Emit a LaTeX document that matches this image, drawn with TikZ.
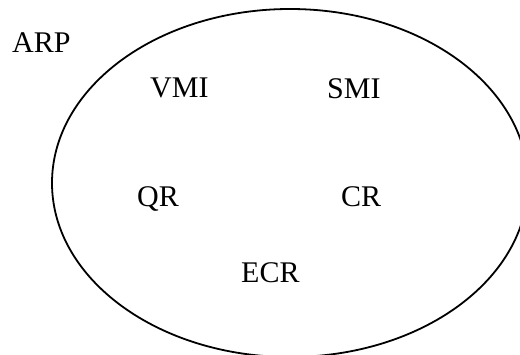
\documentclass[tikz,border=0pt]{standalone}
\usepackage{fontspec}
\setmainfont{Liberation Serif}
\usetikzlibrary{shapes.geometric}
\begin{document}
\begin{tikzpicture}[x=1pt,y=-1pt,
  label/.style={anchor=base west,inner sep=0pt,font=\fontsize{30}{33}\selectfont},
  setline/.style={draw=black,line width=1.8pt,ellipse,inner sep=0pt,
    minimum width=476pt,minimum height=348pt}]
  \useasboundingbox (0,0) rectangle (520,354);
  % the enclosing set
  \node[setline] (arp set) at (290,183) {};
  % set name and members
  \node[label] (arp) at (12,52) {ARP};
  \node[label] (vmi) at (150,97) {VMI};
  \node[label] (smi) at (327,98) {SMI};
  \node[label] (qr) at (137,206) {QR};
  \node[label] (cr) at (341,206) {CR};
  \node[label] (ecr) at (241,282) {ECR};
\end{tikzpicture}
\end{document}
